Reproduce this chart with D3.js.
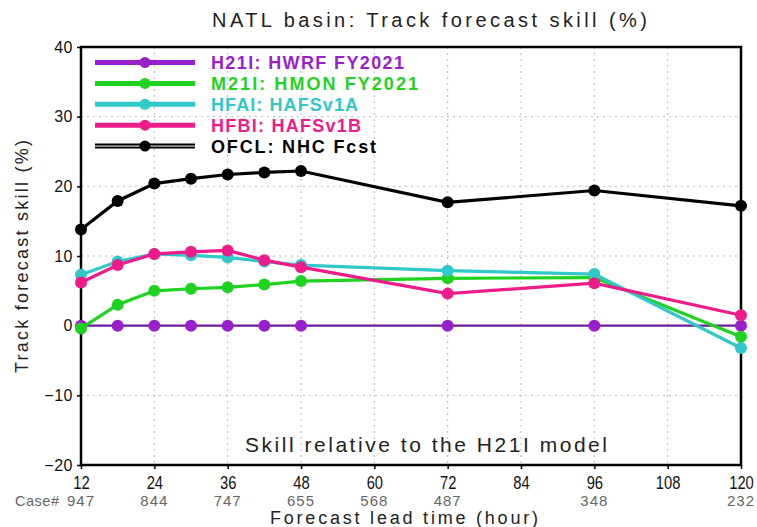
<!DOCTYPE html>
<html><head><meta charset="utf-8">
<script src="https://cdn.jsdelivr.net/npm/d3@7"></script>
<style>body{margin:0;background:#fff}svg{display:block}text{font-family:"Liberation Sans",Arial,sans-serif}</style>
</head><body><svg id="c" width="757" height="527"></svg>
<script>
const leadTimes = [12, 18, 24, 30, 36, 42, 48, 72, 96, 120];
const h21i = [0, 0, 0, 0, 0, 0, 0, 0, 0, 0];
const m21i = [-0.4, 3.0, 5.0, 5.3, 5.5, 5.9, 6.4, 6.8, 6.9, -1.6];
const hfai = [7.3, 9.2, 10.3, 10.1, 9.8, 9.2, 8.7, 7.9, 7.4, -3.2];
const hfbi = [6.2, 8.7, 10.3, 10.6, 10.8, 9.4, 8.4, 4.6, 6.1, 1.5];
const ofcl = [13.8, 17.9, 20.4, 21.1, 21.7, 22.0, 22.2, 17.7, 19.4, 17.2];
const xTicks = [12, 24, 36, 48, 60, 72, 84, 96, 108, 120];
const yTicks = [-20, -10, 0, 10, 20, 30, 40];
const caseHours = [12, 24, 36, 48, 60, 72, 96, 120];
const caseCounts = [947, 844, 747, 655, 568, 487, 348, 232];
const seriesNames = ["H21I: HWRF FY2021", "M21I: HMON FY2021", "HFAI: HAFSv1A", "HFBI: HAFSv1B", "OFCL: NHC Fcst"];
const seriesColors = ["#9a1fcc", "#1fd21f", "#30c8c8", "#ee1c8a", "#000000"];
const seriesData = [h21i, m21i, hfai, hfbi, ofcl];

// layout (text widths measured from reference)
const legendTextLen = [193, 207, 147, 150, 165];

const svg = d3.select("#c");
const L = 81, R = 741, T = 47, B = 465;
const x = d3.scaleLinear().domain([12, 120]).range([L, R]);
const y = d3.scaleLinear().domain([-20, 40]).range([B, T]);

// grid
const g = svg.append("g");
g.selectAll(".gx").data(xTicks.slice(1, -1)).join("line")
  .attr("x1", d => x(d)).attr("x2", d => x(d)).attr("y1", T).attr("y2", B)
  .attr("stroke", "#b8b8b8").attr("stroke-width", 1).attr("stroke-dasharray", "2,4");
g.selectAll(".gy").data(yTicks.slice(1, -1)).join("line")
  .attr("y1", d => y(d)).attr("y2", d => y(d)).attr("x1", L).attr("x2", R)
  .attr("stroke", "#b8b8b8").attr("stroke-width", 1).attr("stroke-dasharray", "2,4");

// axes
const xAxis = d3.axisBottom(x).tickValues(xTicks).tickSize(4).tickSizeOuter(0).tickPadding(7);
const ax = svg.append("g").attr("transform", `translate(0,${B})`).call(xAxis);
ax.select(".domain").remove();
ax.selectAll("line").attr("stroke", "#000").attr("stroke-width", 1.5);
ax.selectAll("text").attr("font-size", 18).attr("fill", "#111")
  .attr("transform", "scale(0.82,1)");
const yAxis = d3.axisLeft(y).tickValues(yTicks).tickSize(4).tickSizeOuter(0).tickPadding(4);
const ay = svg.append("g").attr("transform", `translate(${L},0)`).call(yAxis);
ay.select(".domain").remove();
ay.selectAll("line").attr("stroke", "#000").attr("stroke-width", 1.5);
ay.selectAll("text").attr("font-size", 16).attr("fill", "#111").attr("letter-spacing", 0.5)
  .text(d => d < 0 ? "\u2212" + Math.abs(d) : d);

// frame
svg.append("rect").attr("x", L).attr("y", T).attr("width", R - L).attr("height", B - T)
  .attr("fill", "none").attr("stroke", "#000").attr("stroke-width", 2.5);

// series lines
const line = d3.line().x((d, i) => x(leadTimes[i])).y(d => y(d));
seriesData.forEach((vals, k) => {
  svg.append("path").datum(vals).attr("d", line).attr("fill", "none")
    .attr("stroke", k === 0 ? "#6f1c98" : seriesColors[k]).attr("stroke-width", k === 0 ? 2.2 : 3.2);
  svg.selectAll(null).data(vals).join("circle")
    .attr("cx", (d, i) => x(leadTimes[i])).attr("cy", d => y(d)).attr("r", 6)
    .attr("fill", seriesColors[k]);
});

// legend
const lg = svg.append("g");
seriesNames.forEach((name, k) => {
  const ly = 62.5 + k * 20.9;
  lg.append("line").attr("x1", 95).attr("x2", 195).attr("y1", ly).attr("y2", ly)
    .attr("stroke", seriesColors[k]).attr("stroke-width", 5);
  if (k === 4) {
    lg.append("line").attr("x1", 95).attr("x2", 195).attr("y1", ly).attr("y2", ly)
      .attr("stroke", "#fff").attr("stroke-width", 1);
  }
  lg.append("circle").attr("cx", 145).attr("cy", ly).attr("r", 5.5).attr("fill", seriesColors[k]);
  lg.append("text").attr("x", 211).attr("y", ly + 6.5).attr("font-size", 18).attr("font-weight", "bold")
    .attr("fill", seriesColors[k]).attr("textLength", legendTextLen[k]).attr("lengthAdjust", "spacing").text(name);
});

// titles
svg.append("text").attr("x", 212).attr("y", 27)
  .attr("font-size", 20).attr("textLength", 435).attr("lengthAdjust", "spacing")
  .attr("fill", "#222").text("NATL basin: Track forecast skill (%)");
svg.append("text").attr("transform", "translate(28,373) rotate(-90)")
  .attr("font-size", 18).attr("textLength", 233).attr("lengthAdjust", "spacing")
  .attr("fill", "#222").text("Track forecast skill (%)");
svg.append("text").attr("x", 270).attr("y", 524)
  .attr("font-size", 18).attr("textLength", 268).attr("lengthAdjust", "spacing")
  .attr("fill", "#222").text("Forecast lead time (hour)");
svg.append("text").attr("x", 245).attr("y", 452)
  .attr("font-size", 21).attr("textLength", 362).attr("lengthAdjust", "spacing")
  .attr("fill", "#222").text("Skill relative to the H21I model");

// case counts
svg.append("text").attr("x", 15).attr("y", 506).attr("font-size", 14.5).attr("fill", "#666")
  .attr("textLength", 44).attr("lengthAdjust", "spacing").text("Case#");
svg.selectAll(null).data(caseHours).join("text")
  .attr("x", d => x(d)).attr("y", 506).attr("text-anchor", "middle")
  .attr("font-size", 15).attr("letter-spacing", 1).attr("fill", "#666").text((d, i) => caseCounts[i]);
</script></body></html>
